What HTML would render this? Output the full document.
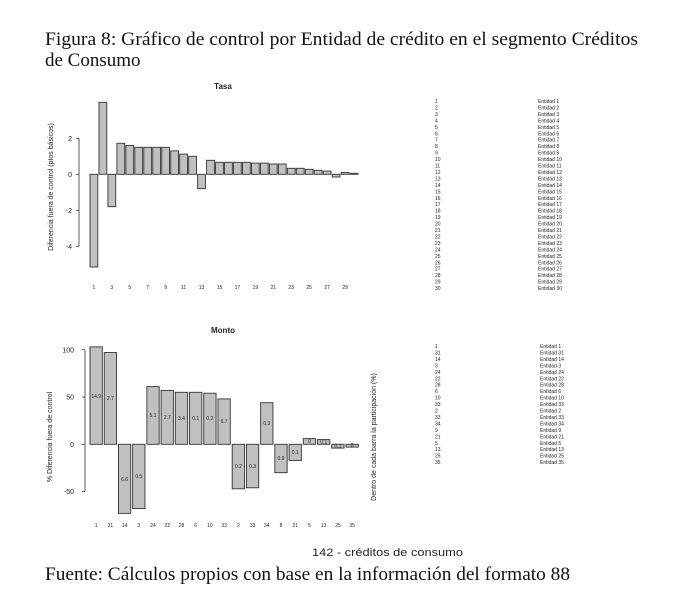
<!DOCTYPE html>
<html><head><meta charset="utf-8"><style>
html,body{margin:0;padding:0;background:#fff;width:688px;height:601px;overflow:hidden}
svg{display:block}
.s{font-family:"Liberation Sans",sans-serif;fill:#222}
.r{font-family:"Liberation Serif",serif;fill:#111}
.b{fill:#c0c0c0;stroke:#333;stroke-width:0.9}
.l{font-family:"Liberation Sans",sans-serif;font-size:5px;fill:#222}
</style></head><body>
<svg width="688" height="601" viewBox="0 0 688 601">
<text class="r" x="45" y="45" font-size="19" textLength="593" lengthAdjust="spacingAndGlyphs">Figura 8: Gráfico de control por Entidad de crédito en el segmento Créditos</text>
<text class="r" x="45" y="66" font-size="19">de Consumo</text>

<!-- Tasa -->
<text class="s" x="223" y="89" font-size="8" font-weight="bold" text-anchor="middle">Tasa</text>
<text class="s" x="53" y="187" font-size="7" text-anchor="middle" transform="rotate(-90 53 187)">Diferencia fuera de control (ptos básicos)</text>
<line x1="79" y1="138.3" x2="79" y2="246.3" stroke="#333" stroke-width="0.8"/>
<g stroke="#333" stroke-width="0.8">
<line x1="76" y1="138.3" x2="79" y2="138.3"/><line x1="76" y1="174.3" x2="79" y2="174.3"/><line x1="76" y1="210.3" x2="79" y2="210.3"/><line x1="76" y1="246.3" x2="79" y2="246.3"/>
</g>
<g class="s" font-size="7" text-anchor="end">
<text x="72" y="141">2</text><text x="72" y="177">0</text><text x="72" y="213">-2</text><text x="72" y="249">-4</text>
</g>
<g class="b">
<rect x="90" y="174.3" width="7.8" height="92.7"/>
<rect x="98.97" y="102.3" width="7.8" height="72"/>
<rect x="107.94" y="174.3" width="7.8" height="32.4"/>
<rect x="116.91" y="143.3" width="7.8" height="31"/>
<rect x="125.88" y="145.5" width="7.8" height="28.8"/>
<rect x="134.85" y="147.3" width="7.8" height="27"/>
<rect x="143.82" y="147.3" width="7.8" height="27"/>
<rect x="152.79" y="147.3" width="7.8" height="27"/>
<rect x="161.76" y="147.3" width="7.8" height="27"/>
<rect x="170.73" y="150.9" width="7.8" height="23.4"/>
<rect x="179.7" y="154.1" width="7.8" height="20.2"/>
<rect x="188.67" y="156.3" width="7.8" height="18"/>
<rect x="197.64" y="174.3" width="7.8" height="14.4"/>
<rect x="206.61" y="160.3" width="7.8" height="14"/>
<rect x="215.58" y="162.3" width="7.8" height="12"/>
<rect x="224.55" y="162.3" width="7.8" height="12"/>
<rect x="233.52" y="162.3" width="7.8" height="12"/>
<rect x="242.49" y="162.3" width="7.8" height="12"/>
<rect x="251.46" y="163.1" width="7.8" height="11.2"/>
<rect x="260.43" y="163.1" width="7.8" height="11.2"/>
<rect x="269.4" y="164" width="7.8" height="10.3"/>
<rect x="278.37" y="164" width="7.8" height="10.3"/>
<rect x="287.34" y="168.3" width="7.8" height="6"/>
<rect x="296.31" y="168.3" width="7.8" height="6"/>
<rect x="305.28" y="169.3" width="7.8" height="5"/>
<rect x="314.25" y="170.3" width="7.8" height="4"/>
<rect x="323.22" y="171.1" width="7.8" height="3.2"/>
<rect x="332.19" y="174.3" width="7.8" height="2.7"/>
<rect x="341.16" y="172.5" width="7.8" height="1.8"/>
<rect x="350.13" y="173.3" width="7.8" height="1"/>
</g>
<g class="s" font-size="5" text-anchor="middle">
<text x="93.9" y="289">1</text><text x="111.8" y="289">3</text><text x="129.8" y="289">5</text><text x="147.7" y="289">7</text><text x="165.7" y="289">9</text><text x="183.6" y="289">11</text><text x="201.5" y="289">13</text><text x="219.5" y="289">15</text><text x="237.4" y="289">17</text><text x="255.4" y="289">19</text><text x="273.3" y="289">21</text><text x="291.2" y="289">23</text><text x="309.2" y="289">25</text><text x="327.1" y="289">27</text><text x="345.1" y="289">29</text>
</g>
<g class="l">
<text x="435" y="103">1</text><text x="435" y="109.5">2</text><text x="435" y="116">3</text><text x="435" y="122.4">4</text><text x="435" y="128.8">5</text><text x="435" y="135.3">6</text><text x="435" y="141.7">7</text><text x="435" y="148.2">8</text><text x="435" y="154.6">9</text><text x="435" y="161">10</text><text x="435" y="167.5">11</text><text x="435" y="174">12</text><text x="435" y="180.4">13</text><text x="435" y="186.9">14</text><text x="435" y="193.3">15</text><text x="435" y="199.8">16</text><text x="435" y="206.2">17</text><text x="435" y="212.7">18</text><text x="435" y="219.1">19</text><text x="435" y="225.6">20</text><text x="435" y="232">21</text><text x="435" y="238.5">22</text><text x="435" y="244.9">23</text><text x="435" y="251.4">24</text><text x="435" y="257.8">25</text><text x="435" y="264.3">26</text><text x="435" y="270.7">27</text><text x="435" y="277.2">28</text><text x="435" y="283.6">29</text><text x="435" y="290">30</text>
<text x="538" y="103">Entidad 1</text><text x="538" y="109.5">Entidad 2</text><text x="538" y="116">Entidad 3</text><text x="538" y="122.4">Entidad 4</text><text x="538" y="128.8">Entidad 5</text><text x="538" y="135.3">Entidad 6</text><text x="538" y="141.7">Entidad 7</text><text x="538" y="148.2">Entidad 8</text><text x="538" y="154.6">Entidad 9</text><text x="538" y="161">Entidad 10</text><text x="538" y="167.5">Entidad 11</text><text x="538" y="174">Entidad 12</text><text x="538" y="180.4">Entidad 13</text><text x="538" y="186.9">Entidad 14</text><text x="538" y="193.3">Entidad 15</text><text x="538" y="199.8">Entidad 16</text><text x="538" y="206.2">Entidad 17</text><text x="538" y="212.7">Entidad 18</text><text x="538" y="219.1">Entidad 19</text><text x="538" y="225.6">Entidad 20</text><text x="538" y="232">Entidad 21</text><text x="538" y="238.5">Entidad 22</text><text x="538" y="244.9">Entidad 23</text><text x="538" y="251.4">Entidad 24</text><text x="538" y="257.8">Entidad 25</text><text x="538" y="264.3">Entidad 26</text><text x="538" y="270.7">Entidad 27</text><text x="538" y="277.2">Entidad 28</text><text x="538" y="283.6">Entidad 29</text><text x="538" y="290">Entidad 30</text>
</g>

<!-- Monto -->
<text class="s" x="223" y="333" font-size="8" font-weight="bold" text-anchor="middle">Monto</text>
<text class="s" x="52" y="437" font-size="7" text-anchor="middle" transform="rotate(-90 52 437)">% Diferencia fuera de control</text>
<text class="s" x="376" y="437" font-size="7" text-anchor="middle" transform="rotate(-90 376 437)">Dentro de cada barra la participación (%)</text>
<line x1="85" y1="349.7" x2="85" y2="491.6" stroke="#333" stroke-width="0.8"/>
<g stroke="#333" stroke-width="0.8">
<line x1="82" y1="349.7" x2="85" y2="349.7"/><line x1="82" y1="397" x2="85" y2="397"/><line x1="82" y1="444.3" x2="85" y2="444.3"/><line x1="82" y1="491.6" x2="85" y2="491.6"/>
</g>
<g class="s" font-size="7" text-anchor="end">
<text x="74" y="352.5">100</text><text x="74" y="399.5">50</text><text x="74" y="447">0</text><text x="74" y="494">-50</text>
</g>
<g class="b">
<rect x="90" y="346.9" width="12.3" height="97.4"/>
<rect x="104.22" y="352.5" width="12.3" height="91.8"/>
<rect x="118.44" y="444.3" width="12.3" height="69.1"/>
<rect x="132.66" y="444.3" width="12.3" height="64.3"/>
<rect x="146.88" y="386.6" width="12.3" height="57.7"/>
<rect x="161.1" y="390.4" width="12.3" height="53.9"/>
<rect x="175.32" y="392.3" width="12.3" height="52"/>
<rect x="189.54" y="392.3" width="12.3" height="52"/>
<rect x="203.76" y="393.2" width="12.3" height="51.1"/>
<rect x="217.98" y="398.9" width="12.3" height="45.4"/>
<rect x="232.2" y="444.3" width="12.3" height="44.5"/>
<rect x="246.42" y="444.3" width="12.3" height="43.5"/>
<rect x="260.64" y="402.7" width="12.3" height="41.6"/>
<rect x="274.86" y="444.3" width="12.3" height="28.4"/>
<rect x="289.08" y="444.3" width="12.3" height="16.1"/>
<rect x="303.3" y="438.6" width="12.3" height="5.7"/>
<rect x="317.52" y="439.6" width="12.3" height="4.7"/>
<rect x="331.74" y="444.3" width="12.3" height="3.8"/>
<rect x="345.96" y="444.3" width="12.3" height="2.8"/>
</g>
<g class="s" font-size="5" text-anchor="middle">
<text x="96.2" y="398">14.9</text><text x="110.4" y="400">2.7</text><text x="124.6" y="481">6.6</text><text x="138.8" y="478">0.5</text><text x="153" y="417">5.1</text><text x="167.3" y="419">2.7</text><text x="181.5" y="420">3.4</text><text x="195.7" y="420">0.1</text><text x="209.9" y="420">0.2</text><text x="224.1" y="423">6.7</text><text x="238.4" y="468">0.2</text><text x="252.6" y="468">0.3</text><text x="266.8" y="425">0.3</text><text x="281" y="460">0.9</text><text x="295.2" y="454">0.1</text><text x="309.5" y="443">0</text><text x="323.7" y="443.5">0.1</text><text x="337.9" y="447.5">0.1</text><text x="352.1" y="447">0</text>
</g>
<g class="s" font-size="5" text-anchor="middle">
<text x="96.2" y="527">1</text><text x="110.4" y="527">31</text><text x="124.6" y="527">14</text><text x="138.8" y="527">3</text><text x="153" y="527">24</text><text x="167.3" y="527">22</text><text x="181.5" y="527">28</text><text x="195.7" y="527">6</text><text x="209.9" y="527">10</text><text x="224.1" y="527">33</text><text x="238.4" y="527">2</text><text x="252.6" y="527">33</text><text x="266.8" y="527">34</text><text x="281" y="527">8</text><text x="295.2" y="527">21</text><text x="309.5" y="527">5</text><text x="323.7" y="527">13</text><text x="337.9" y="527">25</text><text x="352.1" y="527">35</text>
</g>
<g class="l">
<text x="435" y="348">1</text><text x="435" y="354.5">31</text><text x="435" y="361">14</text><text x="435" y="367.4">3</text><text x="435" y="373.8">24</text><text x="435" y="380.3">22</text><text x="435" y="386.7">28</text><text x="435" y="393.2">6</text><text x="435" y="399.6">10</text><text x="435" y="406">33</text><text x="435" y="412.5">2</text><text x="435" y="419">33</text><text x="435" y="425.4">34</text><text x="435" y="431.9">9</text><text x="435" y="438.3">21</text><text x="435" y="444.8">5</text><text x="435" y="451.2">13</text><text x="435" y="457.7">25</text><text x="435" y="464.1">35</text>
<text x="540" y="348">Entidad 1</text><text x="540" y="354.5">Entidad 31</text><text x="540" y="361">Entidad 14</text><text x="540" y="367.4">Entidad 3</text><text x="540" y="373.8">Entidad 24</text><text x="540" y="380.3">Entidad 22</text><text x="540" y="386.7">Entidad 28</text><text x="540" y="393.2">Entidad 6</text><text x="540" y="399.6">Entidad 10</text><text x="540" y="406">Entidad 33</text><text x="540" y="412.5">Entidad 2</text><text x="540" y="419">Entidad 33</text><text x="540" y="425.4">Entidad 34</text><text x="540" y="431.9">Entidad 9</text><text x="540" y="438.3">Entidad 21</text><text x="540" y="444.8">Entidad 5</text><text x="540" y="451.2">Entidad 13</text><text x="540" y="457.7">Entidad 25</text><text x="540" y="464.1">Entidad 35</text>
</g>

<text class="s" x="312" y="556" font-size="11" textLength="151" lengthAdjust="spacingAndGlyphs">142 - créditos de consumo</text>
<text class="r" x="45" y="580" font-size="19" textLength="525" lengthAdjust="spacingAndGlyphs">Fuente: Cálculos propios con base en la información del formato 88</text>
</svg>
</body></html>
